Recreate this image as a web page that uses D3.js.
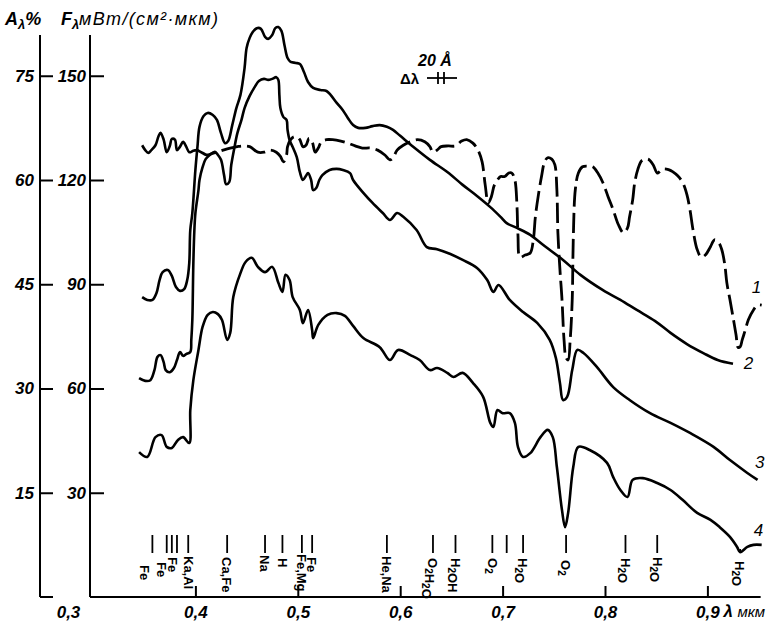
<!DOCTYPE html>
<html>
<head>
<meta charset="utf-8">
<script src="https://cdn.jsdelivr.net/npm/d3@7"></script>
<style>
  body { margin: 0; background: #fff; }
  svg { display: block; }
  text { font-family: "Liberation Sans", Arial, sans-serif; fill: #000; }
</style>
</head>
<body>
<svg id="chart" width="780" height="627"></svg>
<script>
// axis ticks
const aTicks = [15, 30, 45, 60, 75];
const fTicks = [30, 60, 90, 120, 150];
const lambdaTicks = [0.3, 0.4, 0.5, 0.6, 0.7, 0.8, 0.9];

// curve 1, A% (left axis): solid start, then dashed
const curve1Solid = [[0.348,65.0],[0.351,64.3],[0.354,63.9],[0.357,64.3],[0.361,65.0],[0.364,66.3],[0.366,66.8],[0.369,65.8],[0.372,64.0],[0.375,64.9],[0.377,65.9],[0.380,65.8],[0.382,64.3],[0.385,64.8],[0.388,65.5],[0.391,64.8],[0.394,64.0],[0.398,64.2],[0.402,64.3]];
const curve1Dashed = [[0.402,64.3],[0.407,63.9],[0.411,63.6],[0.416,63.8],[0.421,64.0],[0.427,64.3],[0.434,64.6],[0.441,64.8],[0.447,64.9],[0.453,64.8],[0.461,64.0],[0.467,64.0],[0.473,64.3],[0.479,64.0],[0.483,63.4],[0.486,62.6],[0.489,63.6],[0.490,64.8],[0.493,65.8],[0.496,66.2],[0.499,66.2],[0.502,65.8],[0.505,64.8],[0.508,65.0],[0.511,66.0],[0.514,65.5],[0.517,64.0],[0.520,64.6],[0.523,65.5],[0.528,65.8],[0.534,65.8],[0.542,65.6],[0.549,65.3],[0.556,64.9],[0.563,64.6],[0.571,64.6],[0.578,64.3],[0.585,63.6],[0.590,62.9],[0.593,63.2],[0.597,64.3],[0.603,65.0],[0.610,65.5],[0.617,65.8],[0.624,65.5],[0.629,64.8],[0.632,64.0],[0.636,64.3],[0.640,64.8],[0.647,64.9],[0.654,64.9],[0.660,65.6],[0.665,65.8],[0.671,65.3],[0.676,64.3],[0.680,62.6],[0.683,59.3],[0.686,56.7],[0.689,57.6],[0.692,59.3],[0.695,60.0],[0.698,60.5],[0.702,60.5],[0.706,61.0],[0.709,61.0],[0.712,60.0],[0.714,56.4],[0.715,52.1],[0.717,48.9],[0.722,49.2],[0.727,49.5],[0.730,51.4],[0.732,54.7],[0.735,57.9],[0.738,60.5],[0.741,62.6],[0.744,63.2],[0.748,63.0],[0.751,62.2],[0.753,58.6],[0.754,52.4],[0.756,47.1],[0.758,42.8],[0.760,37.0],[0.762,34.4],[0.764,34.1],[0.766,37.0],[0.768,42.8],[0.769,51.4],[0.771,58.6],[0.774,61.0],[0.778,61.9],[0.783,62.0],[0.788,61.9],[0.793,61.0],[0.798,59.6],[0.803,57.6],[0.808,55.7],[0.813,53.6],[0.818,52.4],[0.822,53.1],[0.824,54.7],[0.827,57.1],[0.829,59.6],[0.832,61.5],[0.836,62.8],[0.842,63.0],[0.847,62.2],[0.851,61.0],[0.854,61.3],[0.857,61.6],[0.862,61.5],[0.866,61.2],[0.871,60.6],[0.876,59.6],[0.880,57.9],[0.883,55.7],[0.886,52.8],[0.890,50.0],[0.894,48.9],[0.898,49.2],[0.903,50.4],[0.907,51.4],[0.911,51.0],[0.914,50.0],[0.917,47.8],[0.919,45.2],[0.922,42.8],[0.925,40.3],[0.928,37.7],[0.930,35.9],[0.932,36.0],[0.934,37.0],[0.937,38.4],[0.940,39.9],[0.945,41.3],[0.949,42.0],[0.953,42.0]];

// curves 2-4, F (mW/(cm2 um))
const curve2 = [[0.348,86.3],[0.353,85.5],[0.358,85.5],[0.362,87.5],[0.365,91.2],[0.368,93.5],[0.373,94.1],[0.377,92.4],[0.381,89.2],[0.385,88.1],[0.389,88.6],[0.392,91.2],[0.394,96.1],[0.395,105.6],[0.397,110.5],[0.400,122.9],[0.402,129.5],[0.404,135.3],[0.408,138.4],[0.412,139.3],[0.417,138.7],[0.421,137.3],[0.425,133.5],[0.429,130.6],[0.432,131.2],[0.436,135.8],[0.440,140.7],[0.444,144.5],[0.448,152.2],[0.450,158.0],[0.453,160.9],[0.456,162.6],[0.460,163.7],[0.464,163.5],[0.468,161.2],[0.471,160.6],[0.475,161.7],[0.478,163.7],[0.481,164.0],[0.484,162.9],[0.487,158.8],[0.490,155.1],[0.493,154.0],[0.498,153.7],[0.502,153.4],[0.506,151.1],[0.510,148.2],[0.515,146.5],[0.522,145.9],[0.528,145.6],[0.532,144.5],[0.538,142.2],[0.544,140.1],[0.549,137.8],[0.554,135.8],[0.559,135.0],[0.566,135.0],[0.573,135.5],[0.580,135.8],[0.587,135.3],[0.593,134.4],[0.600,132.7],[0.613,129.5],[0.629,125.8],[0.646,122.3],[0.661,118.6],[0.675,115.4],[0.688,112.2],[0.698,109.4],[0.704,107.6],[0.714,106.2],[0.727,104.2],[0.741,101.0],[0.759,97.0],[0.776,92.7],[0.798,88.3],[0.815,85.5],[0.831,82.6],[0.849,79.4],[0.864,76.0],[0.880,72.8],[0.896,70.2],[0.910,68.2],[0.925,67.1]];
const curve3 = [[0.345,63.0],[0.351,62.2],[0.356,62.4],[0.360,65.3],[0.363,69.1],[0.366,69.6],[0.369,67.6],[0.371,65.3],[0.375,64.7],[0.379,65.9],[0.382,68.2],[0.385,70.5],[0.388,69.4],[0.391,69.9],[0.395,70.5],[0.396,74.0],[0.397,79.7],[0.398,96.1],[0.399,105.6],[0.400,110.5],[0.403,117.1],[0.404,120.0],[0.407,123.7],[0.410,126.0],[0.414,127.2],[0.419,128.1],[0.422,127.2],[0.425,125.8],[0.428,121.4],[0.430,118.8],[0.433,119.4],[0.435,124.3],[0.438,129.2],[0.441,133.5],[0.445,137.3],[0.448,140.7],[0.453,144.2],[0.458,146.8],[0.462,148.5],[0.467,149.1],[0.471,148.8],[0.475,149.1],[0.479,149.6],[0.481,148.8],[0.482,144.5],[0.483,140.7],[0.486,138.1],[0.489,137.3],[0.490,134.4],[0.492,131.5],[0.495,129.5],[0.499,126.6],[0.502,122.3],[0.505,120.0],[0.508,121.2],[0.510,122.0],[0.513,120.0],[0.515,117.1],[0.518,117.7],[0.521,120.0],[0.524,121.4],[0.531,122.9],[0.538,123.2],[0.544,122.9],[0.551,122.0],[0.554,120.0],[0.564,116.3],[0.573,113.4],[0.583,110.5],[0.590,108.5],[0.597,110.5],[0.603,109.4],[0.616,105.6],[0.626,100.7],[0.636,100.1],[0.649,98.7],[0.661,97.0],[0.675,94.7],[0.685,91.2],[0.691,87.8],[0.696,89.8],[0.707,85.5],[0.720,82.0],[0.734,78.8],[0.746,74.0],[0.752,68.8],[0.756,61.6],[0.759,56.7],[0.763,57.6],[0.768,65.3],[0.773,71.1],[0.779,70.2],[0.792,66.2],[0.808,60.4],[0.824,56.7],[0.844,52.9],[0.864,50.1],[0.883,47.2],[0.906,43.2],[0.922,39.4],[0.939,35.7],[0.949,33.7]];
const curve4 = [[0.345,41.7],[0.353,40.3],[0.361,46.0],[0.367,46.6],[0.372,43.2],[0.377,42.9],[0.383,45.2],[0.388,46.0],[0.394,44.3],[0.395,53.8],[0.398,62.4],[0.403,71.1],[0.407,77.7],[0.412,81.2],[0.417,82.0],[0.422,81.4],[0.426,79.7],[0.431,74.0],[0.434,76.0],[0.437,86.3],[0.444,93.2],[0.449,96.4],[0.455,97.6],[0.461,95.0],[0.468,93.5],[0.475,95.0],[0.481,90.4],[0.485,87.8],[0.488,92.7],[0.492,91.2],[0.495,86.3],[0.502,82.6],[0.505,78.8],[0.510,82.6],[0.514,76.8],[0.515,74.5],[0.520,78.3],[0.529,81.2],[0.538,81.7],[0.546,80.9],[0.554,78.0],[0.564,74.5],[0.580,71.9],[0.590,68.2],[0.598,71.1],[0.610,69.6],[0.619,68.2],[0.629,65.3],[0.636,65.9],[0.646,64.5],[0.652,63.3],[0.661,64.5],[0.671,61.6],[0.681,57.6],[0.688,50.1],[0.691,48.9],[0.695,53.8],[0.700,52.9],[0.707,52.9],[0.712,50.1],[0.715,43.2],[0.720,40.3],[0.727,41.4],[0.737,46.0],[0.744,48.1],[0.749,46.0],[0.753,37.4],[0.758,25.0],[0.761,20.1],[0.764,24.2],[0.769,37.4],[0.774,43.2],[0.785,42.3],[0.802,38.6],[0.808,34.5],[0.815,30.8],[0.822,28.8],[0.827,33.7],[0.837,34.2],[0.851,32.8],[0.864,30.8],[0.876,27.9],[0.890,24.2],[0.903,22.2],[0.912,20.1],[0.922,17.3],[0.929,14.4],[0.932,12.9],[0.939,14.4],[0.945,15.0],[0.953,15.0]];

// absorption line markers (wavelength, um) and their labels
const lineLambdas = [0.358, 0.372, 0.377, 0.382, 0.393, 0.431, 0.468, 0.485, 0.504, 0.514, 0.587, 0.632, 0.654, 0.690, 0.704, 0.720, 0.762, 0.820, 0.851, 0.932];
const lineLabelLambdas = [0.350, 0.367, 0.378, 0.393, 0.431, 0.468, 0.485, 0.504, 0.514, 0.587, 0.632, 0.654, 0.690, 0.720, 0.762, 0.820, 0.851, 0.932];
const lineLabelTexts = ["Fe", "Fe", "Fe", "Ka,Al", "Ca,Fe", "Na", "H", "Fe,Mg", "Fe", "He,Na", "O2H2O", "H2OH", "O2", "H2O", "O2", "H2O", "H2O", "H2O"];

const curveNames = ["1", "2", "3", "4"];

const svg = d3.select("#chart");

const x = d3.scaleLinear().domain([0.3, 0.9]).range([93, 707.4]);
const yF = d3.scaleLinear().domain([0, 150]).range([597, 75.75]);
const yA = d3.scaleLinear().domain([0, 75]).range([597, 75.75]);

const axisTop = 35;
const baseY = yF(0);

// axis lines
svg.append("line").attr("x1", 40).attr("x2", 40).attr("y1", axisTop).attr("y2", baseY)
    .attr("stroke", "#000").attr("stroke-width", 2);
svg.append("line").attr("x1", 40).attr("x2", 53).attr("y1", baseY).attr("y2", baseY)
    .attr("stroke", "#000").attr("stroke-width", 2);
svg.append("line").attr("x1", 90).attr("x2", 90).attr("y1", axisTop).attr("y2", baseY)
    .attr("stroke", "#000").attr("stroke-width", 2);
svg.append("line").attr("x1", 90).attr("x2", x(0.952)).attr("y1", baseY).attr("y2", baseY)
    .attr("stroke", "#000").attr("stroke-width", 2);

const styleAxis = (g, size) => {
    g.select(".domain").remove();
    g.selectAll(".tick line").attr("stroke", "#000").attr("stroke-width", 2);
    g.selectAll(".tick text")
        .attr("fill", "#000")
        .style("font-size", size + "px")
        .style("font-style", "italic")
        .style("font-weight", "bold")
        .style("font-family", "'Liberation Sans', Arial, sans-serif");
}

// A% axis
svg.append("g")
    .attr("transform", "translate(40,0)")
    .call(d3.axisLeft(yA).tickValues(aTicks).tickSizeInner(-13).tickSizeOuter(0).tickPadding(6))
    .call(g => styleAxis(g, 17));

// F axis
svg.append("g")
    .attr("transform", "translate(90,0)")
    .call(d3.axisLeft(yF).tickValues(fTicks).tickSizeInner(-14).tickSizeOuter(0).tickPadding(4))
    .call(g => styleAxis(g, 17));

// lambda axis
const fmtLambda = d => d3.format(".1f")(d).replace(".", ",");
const xAxisG = svg.append("g")
    .attr("transform", `translate(0,${baseY})`)
    .call(d3.axisBottom(x).tickValues(lambdaTicks).tickFormat(fmtLambda)
        .tickSizeInner(-11).tickSizeOuter(0).tickPadding(9))
    .call(g => styleAxis(g, 17));
xAxisG.selectAll(".tick").filter(d => d === 0.3).select("line").remove();
xAxisG.selectAll(".tick").filter(d => d === 0.3).select("text").attr("dx", -25);

svg.append("text")
    .attr("x", x(0.9) + 16).attr("y", 617)
    .style("font-size", "17px").style("font-style", "italic").style("font-weight", "bold")
    .text("λ");
svg.append("text")
    .attr("x", x(0.9) + 30).attr("y", 617)
    .style("font-size", "15px").style("font-style", "italic")
    .text("мкм");

// axis titles
const titleA = svg.append("text").attr("x", 5).attr("y", 25)
    .style("font-size", "18px").style("font-style", "italic").style("font-weight", "bold");
titleA.append("tspan").text("A");
titleA.append("tspan").attr("dy", 4).style("font-size", "13px").text("λ");
titleA.append("tspan").attr("dy", -4).text("%");

const titleF = svg.append("text").attr("x", 61).attr("y", 25)
    .style("font-size", "18px").style("font-style", "italic").style("font-weight", "bold");
titleF.append("tspan").text("F");
titleF.append("tspan").attr("dy", 4).style("font-size", "13px").text("λ");

svg.append("text").attr("x", 79).attr("y", 25)
    .attr("textLength", 139).attr("lengthAdjust", "spacing")
    .style("font-size", "18px").style("font-style", "italic")
    .text("мВт/(см²·мкм)");

// curves
const lineA = d3.line().x(d => x(d[0])).y(d => yA(d[1])).curve(d3.curveCatmullRom.alpha(0.5));
const lineF = d3.line().x(d => x(d[0])).y(d => yF(d[1])).curve(d3.curveCatmullRom.alpha(0.5));

svg.append("path").datum(curve1Solid).attr("d", lineA)
    .attr("fill", "none").attr("stroke", "#000").attr("stroke-width", 2.6);
svg.append("path").datum(curve1Dashed).attr("d", lineA)
    .attr("fill", "none").attr("stroke", "#000").attr("stroke-width", 2.8)
    .attr("stroke-dasharray", "20,6");

[curve2, curve3, curve4].forEach(c => {
    svg.append("path").datum(c).attr("d", lineF)
        .attr("fill", "none").attr("stroke", "#000").attr("stroke-width", 2.6)
        .attr("stroke-linejoin", "round");
});

// curve numbers
const curveLabelPos = [[0.948, 89.2], [0.940, 67.3], [0.951, 38.8], [0.950, 19.3]];
curveNames.forEach((n, i) => {
    svg.append("text")
        .attr("x", x(curveLabelPos[i][0])).attr("y", yF(curveLabelPos[i][1]))
        .attr("dy", "0.35em").attr("text-anchor", "middle")
        .style("font-size", "17px").style("font-style", "italic")
        .text(n);
});

// absorption line markers
svg.selectAll(".mark")
    .data(lineLambdas)
    .enter()
    .append("line")
    .attr("x1", d => x(d)).attr("x2", d => x(d))
    .attr("y1", d => d > 0.9 ? 549 : 535)
    .attr("y2", 553)
    .attr("stroke", "#000").attr("stroke-width", 1.8);

const labelStart = [565, 562, 557, 556, 557, 555, 558, 554, 557, 556, 558, 558, 558, 558, 560, 558, 557, 561];
lineLabelTexts.forEach((t, i) => {
    const lx = x(lineLabelLambdas[i]);
    const ly = labelStart[i];
    const txt = svg.append("text")
        .attr("transform", `translate(${lx},${ly}) rotate(90)`)
        .attr("dy", "0.36em")
        .style("font-size", "13px").style("font-weight", "bold");
    // digits are subscripts
    t.split(/(\d)/).filter(s => s !== "").forEach(part => {
        if (/\d/.test(part)) {
            txt.append("tspan").attr("dy", 3).style("font-size", "10px").text(part);
            txt.append("tspan").attr("dy", -3).text("");
        } else {
            txt.append("tspan").text(part);
        }
    });
});

// resolution annotation
svg.append("text").attr("x", 418).attr("y", 66)
    .style("font-size", "16px").style("font-style", "italic").style("font-weight", "bold")
    .text("20 Å");
svg.append("text").attr("x", 400).attr("y", 84)
    .style("font-size", "15px").style("font-weight", "bold")
    .text("Δλ");
svg.append("line").attr("x1", 427).attr("x2", 457).attr("y1", 78).attr("y2", 78)
    .attr("stroke", "#000").attr("stroke-width", 1.8);
[438, 444].forEach(bx => {
    svg.append("line").attr("x1", bx).attr("x2", bx).attr("y1", 72).attr("y2", 84)
        .attr("stroke", "#000").attr("stroke-width", 1.8);
});
</script>
</body>
</html>
